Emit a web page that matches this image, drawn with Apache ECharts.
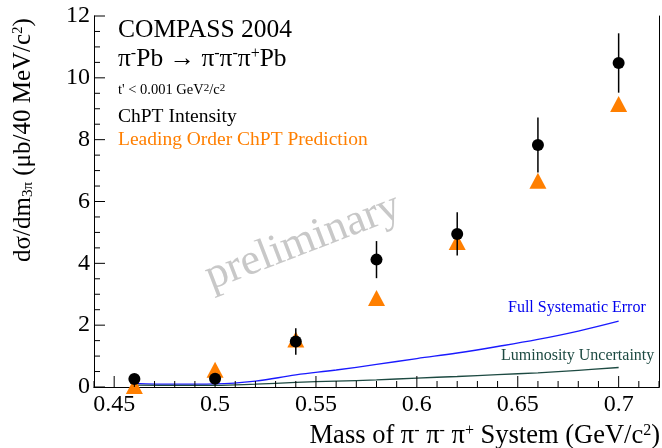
<!DOCTYPE html>
<html>
<head>
<meta charset="utf-8">
<script src="https://cdn.jsdelivr.net/npm/echarts@6/dist/echarts.min.js"></script>
<style>
  html, body { margin: 0; padding: 0; background: #fff; }
  #chart { width: 662px; height: 448px; }
</style>
</head>
<body>
<div id="chart"></div>
<script>
  // bin centres (GeV/c^2)
  const massBins = [0.46, 0.50, 0.54, 0.58, 0.62, 0.66, 0.70];
  // ChPT intensity with stat. errors
  const chptIntensity = [0.26, 0.27, 1.47, 4.12, 4.95, 7.83, 10.48];
  const chptError = [0.08, 0.08, 0.43, 0.60, 0.70, 0.89, 0.96];
  // leading order prediction
  const loPrediction = [0.03, 0.56, 1.54, 2.88, 4.69, 6.67, 9.15];
  // systematic curves
  const curveMass = [0.46, 0.48, 0.50, 0.52, 0.54, 0.56, 0.58, 0.60, 0.62, 0.64, 0.66, 0.68, 0.70];
  const fullSyst = [0.12, 0.09, 0.10, 0.19, 0.39, 0.55, 0.73, 0.92, 1.10, 1.31, 1.54, 1.81, 2.13];
  const lumiUnc = [0.06, 0.05, 0.05, 0.09, 0.15, 0.19, 0.23, 0.29, 0.34, 0.40, 0.46, 0.54, 0.63];
  // tick labels and tick marks
  const xMajorTicks = [0.45, 0.5, 0.55, 0.6, 0.65, 0.7];
  const xTickValues = [0.44, 0.45, 0.46, 0.47, 0.48, 0.49, 0.50, 0.51, 0.52, 0.53, 0.54, 0.55, 0.56, 0.57, 0.58,
    0.59, 0.60, 0.61, 0.62, 0.63, 0.64, 0.65, 0.66, 0.67, 0.68, 0.69, 0.70, 0.71, 0.72];
  const yTicks = [0, 2, 4, 6, 8, 10, 12];
  const yTickValues = [0, 0.5, 1, 1.5, 2, 2.5, 3, 3.5, 4, 4.5, 5, 5.5, 6, 6.5, 7, 7.5, 8, 8.5, 9, 9.5,
    10, 10.5, 11, 11.5, 12];

  const FONT = '"Liberation Serif", "DejaVu Serif", serif';
  const ORANGE = '#ff7f00';
  const BLUE = '#1a1aff';
  const TEAL = '#1d4a42';

  const myChart = echarts.init(document.getElementById('chart'));

  const zip = (xs, ys) => xs.map((x, i) => [x, ys[i]]);
  const sup = (size) => ({ fontSize: size, fontFamily: FONT, verticalAlign: 'top', fill: '#000' });
  const frameAxis = (position) => ({
    type: 'value', position: position,
    axisLine: { show: true, lineStyle: { color: '#000', width: 1 } },
    axisTick: { show: false }, axisLabel: { show: false }, splitLine: { show: false }
  });

  const textGraphics = [
    { type: 'text', left: 118, top: 17, style: { text: 'COMPASS 2004', font: '25.5px ' + FONT, fill: '#000' } },
    {
      type: 'text', left: 118, top: 46,
      style: {
        text: 'π{sup|-}Pb → π{sup|-}π{sup|-}π{sup|+}Pb',
        font: '25.5px ' + FONT, fill: '#000',
        rich: { sup: sup(16) }
      }
    },
    {
      type: 'text', left: 118, top: 83,
      style: {
        text: "t' < 0.001 GeV{sup|2}/c{sup|2}",
        font: '14.5px ' + FONT, fill: '#000',
        rich: { sup: sup(11) }
      }
    },
    { type: 'text', left: 118, top: 107, style: { text: 'ChPT Intensity', font: '19.5px ' + FONT, fill: '#000' } },
    { type: 'text', left: 118, top: 130, style: { text: 'Leading Order ChPT Prediction', font: '19.5px ' + FONT, fill: ORANGE } },
    {
      type: 'text', x: 303, y: 242, rotation: 21 * Math.PI / 180,
      style: { text: 'preliminary', font: '44px ' + FONT, fill: '#c8c8c8', align: 'center', verticalAlign: 'middle' },
      z: -1
    },
    { type: 'text', left: 508, top: 300, style: { text: 'Full Systematic Error', font: '16px ' + FONT, fill: '#0000ee' } },
    { type: 'text', left: 501, top: 348, style: { text: 'Luminosity Uncertainty', font: '16px ' + FONT, fill: TEAL } },
    {
      type: 'text', x: 23, y: 140, rotation: Math.PI / 2,
      style: {
        text: 'dσ/dm{sub|3π} (μb/40 MeV/c{sup|2})',
        font: '25px ' + FONT, fill: '#000', align: 'center', verticalAlign: 'middle',
        rich: {
          sup: sup(15),
          sub: { fontSize: 15, fontFamily: FONT, verticalAlign: 'bottom', fill: '#000' }
        }
      }
    },
    {
      type: 'text', right: 2, top: 423,
      style: {
        text: 'Mass of π{sup|-} π{sup|-} π{sup|+} System (GeV/c{sup|2})',
        font: '26.5px ' + FONT, fill: '#000',
        rich: { sup: sup(16) }
      }
    }
  ];

  const option = {
    animation: false,
    grid: { left: 94, right: 2, top: 16, bottom: 61 },
    xAxis: [
      {
        type: 'value',
        min: 0.44, max: 0.72, interval: 0.01,
        axisLine: { show: true, lineStyle: { color: '#000', width: 1 } },
        axisTick: { show: false },
        axisLabel: {
          show: true,
          interval: 0,
          margin: 6,
          color: '#000',
          fontSize: 24,
          fontFamily: FONT,
          formatter: function (v) {
            const r = Math.round(v * 100);
            return xMajorTicks.indexOf(r / 100) >= 0 ? String(r / 100) : '';
          }
        },
        splitLine: { show: false }
      },
      Object.assign(frameAxis('top'), { min: 0.44, max: 0.72 })
    ],
    yAxis: [
      {
        type: 'value',
        min: yTicks[0], max: yTicks[yTicks.length - 1], interval: 2,
        axisLine: { show: true, lineStyle: { color: '#000', width: 1 } },
        axisTick: { show: false },
        axisLabel: { show: true, margin: 4, color: '#000', fontSize: 24, fontFamily: FONT },
        splitLine: { show: false }
      },
      Object.assign(frameAxis('right'), { min: 0, max: 12 })
    ],
    graphic: textGraphics,
    series: [
      {
        name: 'Full Systematic Error', type: 'line', z: 1,
        data: zip(curveMass, fullSyst), smooth: 0.4, showSymbol: false,
        lineStyle: { color: BLUE, width: 1.3 }
      },
      {
        name: 'Luminosity Uncertainty', type: 'line', z: 1,
        data: zip(curveMass, lumiUnc), smooth: 0.4, showSymbol: false,
        lineStyle: { color: TEAL, width: 1.3 }
      },
      {
        name: 'Leading Order ChPT Prediction', type: 'scatter', z: 2,
        data: zip(massBins, loPrediction),
        symbol: 'triangle', symbolSize: [17, 16],
        itemStyle: { color: ORANGE, opacity: 1 }
      },
      {
        name: 'errors', type: 'custom', z: 3,
        data: massBins.map((x, i) => [x, chptIntensity[i], chptError[i]]),
        renderItem: function (params, api) {
          const x = api.value(0), v = api.value(1), e = api.value(2);
          const p1 = api.coord([x, v - e]);
          const p2 = api.coord([x, v + e]);
          return {
            type: 'line',
            shape: { x1: p1[0], y1: p1[1], x2: p2[0], y2: p2[1] },
            style: { stroke: '#000', lineWidth: 1.5 }
          };
        }
      },
      {
        name: 'ChPT Intensity', type: 'scatter', z: 4,
        data: zip(massBins, chptIntensity),
        symbol: 'circle', symbolSize: 12,
        itemStyle: { color: '#000', opacity: 1 }
      }
    ]
  };
  myChart.setOption(option);

  // ROOT-style inside tick marks, placed through the chart's own scales
  const tickGraphics = [];
  xTickValues.forEach(function (v) {
    const p = myChart.convertToPixel({ xAxisIndex: 0, yAxisIndex: 0 }, [v, 0]);
    const len = xMajorTicks.indexOf(Math.round(v * 100) / 100) >= 0 ? 11 : 6;
    tickGraphics.push({
      type: 'line', z: 100, silent: true,
      shape: { x1: p[0], y1: p[1], x2: p[0], y2: p[1] - len },
      style: { stroke: '#000', lineWidth: 1 }
    });
  });
  yTickValues.forEach(function (v) {
    const p = myChart.convertToPixel({ xAxisIndex: 0, yAxisIndex: 0 }, [0.44, v]);
    const len = yTicks.indexOf(v) >= 0 ? 11 : 6;
    tickGraphics.push({
      type: 'line', z: 100, silent: true,
      shape: { x1: p[0], y1: p[1], x2: p[0] + len, y2: p[1] },
      style: { stroke: '#000', lineWidth: 1 }
    });
  });
  myChart.setOption({ graphic: textGraphics.concat(tickGraphics) });
</script>
</body>
</html>
